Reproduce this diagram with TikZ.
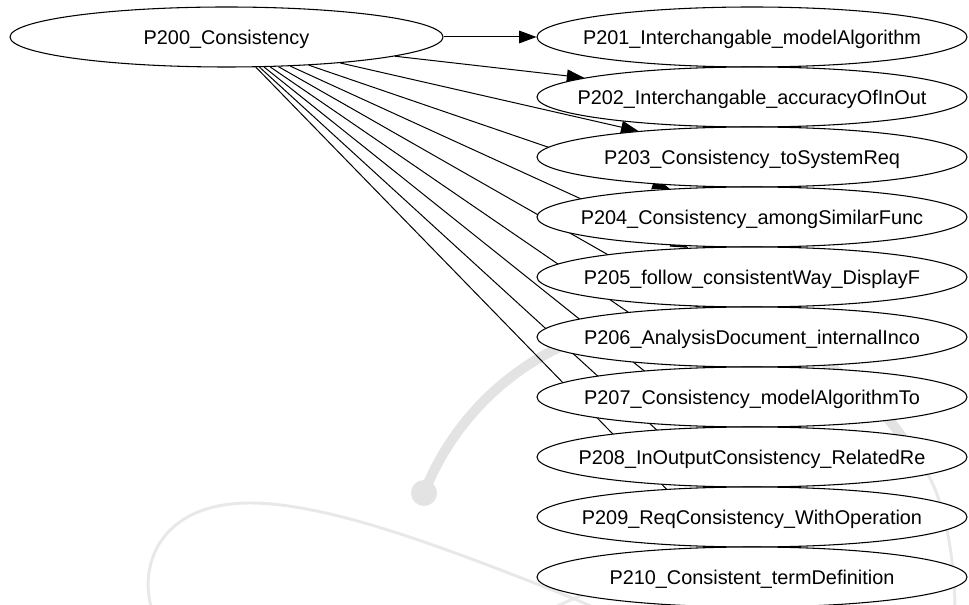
\documentclass[tikz,border=0pt]{standalone}
\usepackage{fontspec}
\setmainfont{Liberation Sans}
\usetikzlibrary{shapes.geometric,arrows.meta}
\pgfdeclarelayer{back}
\pgfsetlayers{back,main}
% centred label that does not enlarge its ellipse
\newcommand\ctext[1]{\makebox[0pt]{\raisebox{-0.36em}[0pt][0pt]{#1}}}
\begin{document}
\begin{tikzpicture}[x=0.75pt,y=-0.75pt,
  state/.style={ellipse,draw,fill=white,line width=0.8pt,inner sep=0pt,
    minimum width={430*0.75pt},minimum height={60*0.75pt},
    font=\fontsize{14.9pt}{17pt}\selectfont},
  root/.style={state,minimum width={433*0.75pt}},
  link/.style={draw,line width=0.75pt,-{Triangle[length=13pt,width=9.5pt]}},
  wmthick/.style={draw=black!11,line width=7.5pt},
  wmthin/.style={draw=black!9,line width=2.2pt}]
\useasboundingbox (0,0) rectangle (969,605);

% nodes
\node[root]  (p200) at (226.5,37) {\ctext{P200\_Consistency}};
\node[state] (p201) at (752,37)  {\ctext{P201\_Interchangable\_modelAlgorithm}};
\node[state] (p202) at (752,97)  {\ctext{P202\_Interchangable\_accuracyOfInOut}};
\node[state] (p203) at (752,157) {\ctext{P203\_Consistency\_toSystemReq}};
\node[state] (p204) at (752,217) {\ctext{P204\_Consistency\_amongSimilarFunc}};
\node[state] (p205) at (752,277) {\ctext{P205\_follow\_consistentWay\_DisplayF}};
\node[state] (p206) at (752,337) {\ctext{P206\_AnalysisDocument\_internalInco}};
\node[state] (p207) at (752,397) {\ctext{P207\_Consistency\_modelAlgorithmTo}};
\node[state] (p208) at (752,457) {\ctext{P208\_InOutputConsistency\_RelatedRe}};
\node[state] (p209) at (752,517) {\ctext{P209\_ReqConsistency\_WithOperation}};
\node[state] (p210) at (752,577) {\ctext{P210\_Consistent\_termDefinition}};

\begin{pgfonlayer}{back}
  % faint logo behind the graph
  \begin{scope}
    \clip (0,0) rectangle (969,605);
    \draw[wmthick] (424,493) arc[start angle=201.5,end angle=330,radius=273];
    \fill[black!11] (424,493) circle[radius=13];
    \draw[wmthin] (152,610) .. controls (138,565) and (160,503) .. (250,503)
                  .. controls (330,503) and (450,550) .. (560,593)
                  .. controls (590,605) and (610,615) .. (630,625);
    \draw[wmthin] (545,612) .. controls (600,585) and (680,555) .. (760,530);
    \draw[wmthin] (925,470) .. controls (945,500) and (955,560) .. (955,612);
  \end{scope}
  % connectors
  \foreach \t in {p201,p202,p203,p204,p205,p206,p207,p208,p209,p210}
    \draw[link] (p200) -- (\t);
\end{pgfonlayer}
\end{tikzpicture}
\end{document}
